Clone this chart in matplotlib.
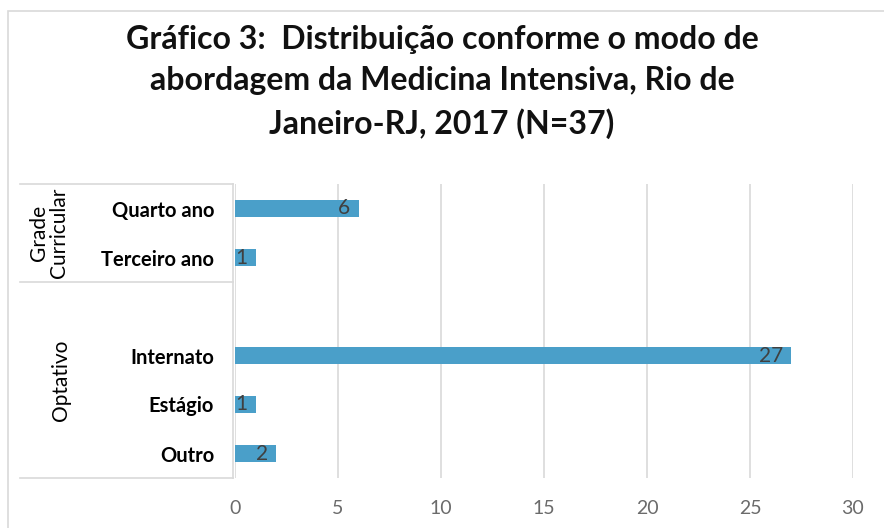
import matplotlib.pyplot as plt
from matplotlib.lines import Line2D
from matplotlib.patches import Rectangle

plt.rcParams.update({
    "font.family": ["Lato", "DejaVu Sans"],
    "font.size": 12,
})

# data (top to bottom; empty slot separates the groups)
categories = ["Quarto ano", "Terceiro ano", "", "Internato", "Estágio", "Outro"]
values = [6, 1, None, 27, 1, 2]
groups = ["Grade\nCurricular", "Optativo"]
group_sizes = [2, 4]
x_ticks = [0, 5, 10, 15, 20, 25, 30]

title = ("Gráfico 3:  Distribuição conforme o modo de\n"
         "abordagem da Medicina Intensiva, Rio de\n"
         "Janeiro-RJ, 2017 (N=37)")

bar_color = "#4a9fc9"
grid_color = "#d9d9d9"

fig = plt.figure(figsize=(8.84, 5.28), dpi=100)
ax = fig.add_axes([235 / 884, 1 - 478 / 528, 618 / 884, 294 / 528])

pos = list(range(len(categories)))
for y, v in zip(pos, values):
    if v is None:
        continue
    ax.barh(y, v, height=0.34, color=bar_color, zorder=3)
    ax.annotate(str(v), (v, y), xytext=(-6, 0), textcoords="offset points",
                ha="right", va="center", fontsize=15, color="#404040", zorder=4)

ax.set_ylim(len(categories) - 0.5, -0.5)
ax.set_xlim(0, 30)
ax.set_xticks(x_ticks)
ax.set_yticks(pos)
ax.set_yticklabels(categories, fontsize=14.5, fontweight="bold")
ax.tick_params(axis="y", length=0, pad=15)
ax.tick_params(axis="x", length=0, pad=16, labelsize=14, labelcolor="#6b6b6b")
ax.grid(axis="x", color=grid_color, linewidth=1.2, zorder=0)
for s in ax.spines.values():
    s.set_visible(False)

# table lines on the left (x in axes fraction, y in data)
tr = ax.get_yaxis_transform()
px = 618  # axes width in pixels
x_left = (20 - 235) / px
x_right = (233 - 235) / px
bounds = [-0.5]
for n in group_sizes:
    bounds.append(bounds[-1] + n)
for b in bounds:
    ax.add_line(Line2D([x_left, x_right], [b, b], transform=tr,
                       color=grid_color, linewidth=1.2, clip_on=False))
ax.add_line(Line2D([x_right, x_right], [bounds[0], bounds[-1]], transform=tr,
                   color=grid_color, linewidth=1.2, clip_on=False))

# group labels
for g, lo, hi, xp in zip(groups, bounds[:-1], bounds[1:], [49, 61]):
    ax.text((xp - 235) / px, (lo + hi) / 2, g, transform=tr, rotation=90,
            ha="center", va="center", fontsize=15, linespacing=1.0)

# chart border (top and left visible)
fig.add_artist(Rectangle((8 / 884, -0.1), 1.0, 1 - 11 / 528 + 0.1,
                         transform=fig.transFigure, fill=False,
                         edgecolor=grid_color, linewidth=1.2))

fig.text(0.5, 1 - 82 / 528, title, ha="center", va="center",
         fontsize=23, fontweight="bold", linespacing=1.5, color="#111111")

fig.savefig("out.png", dpi=100)
